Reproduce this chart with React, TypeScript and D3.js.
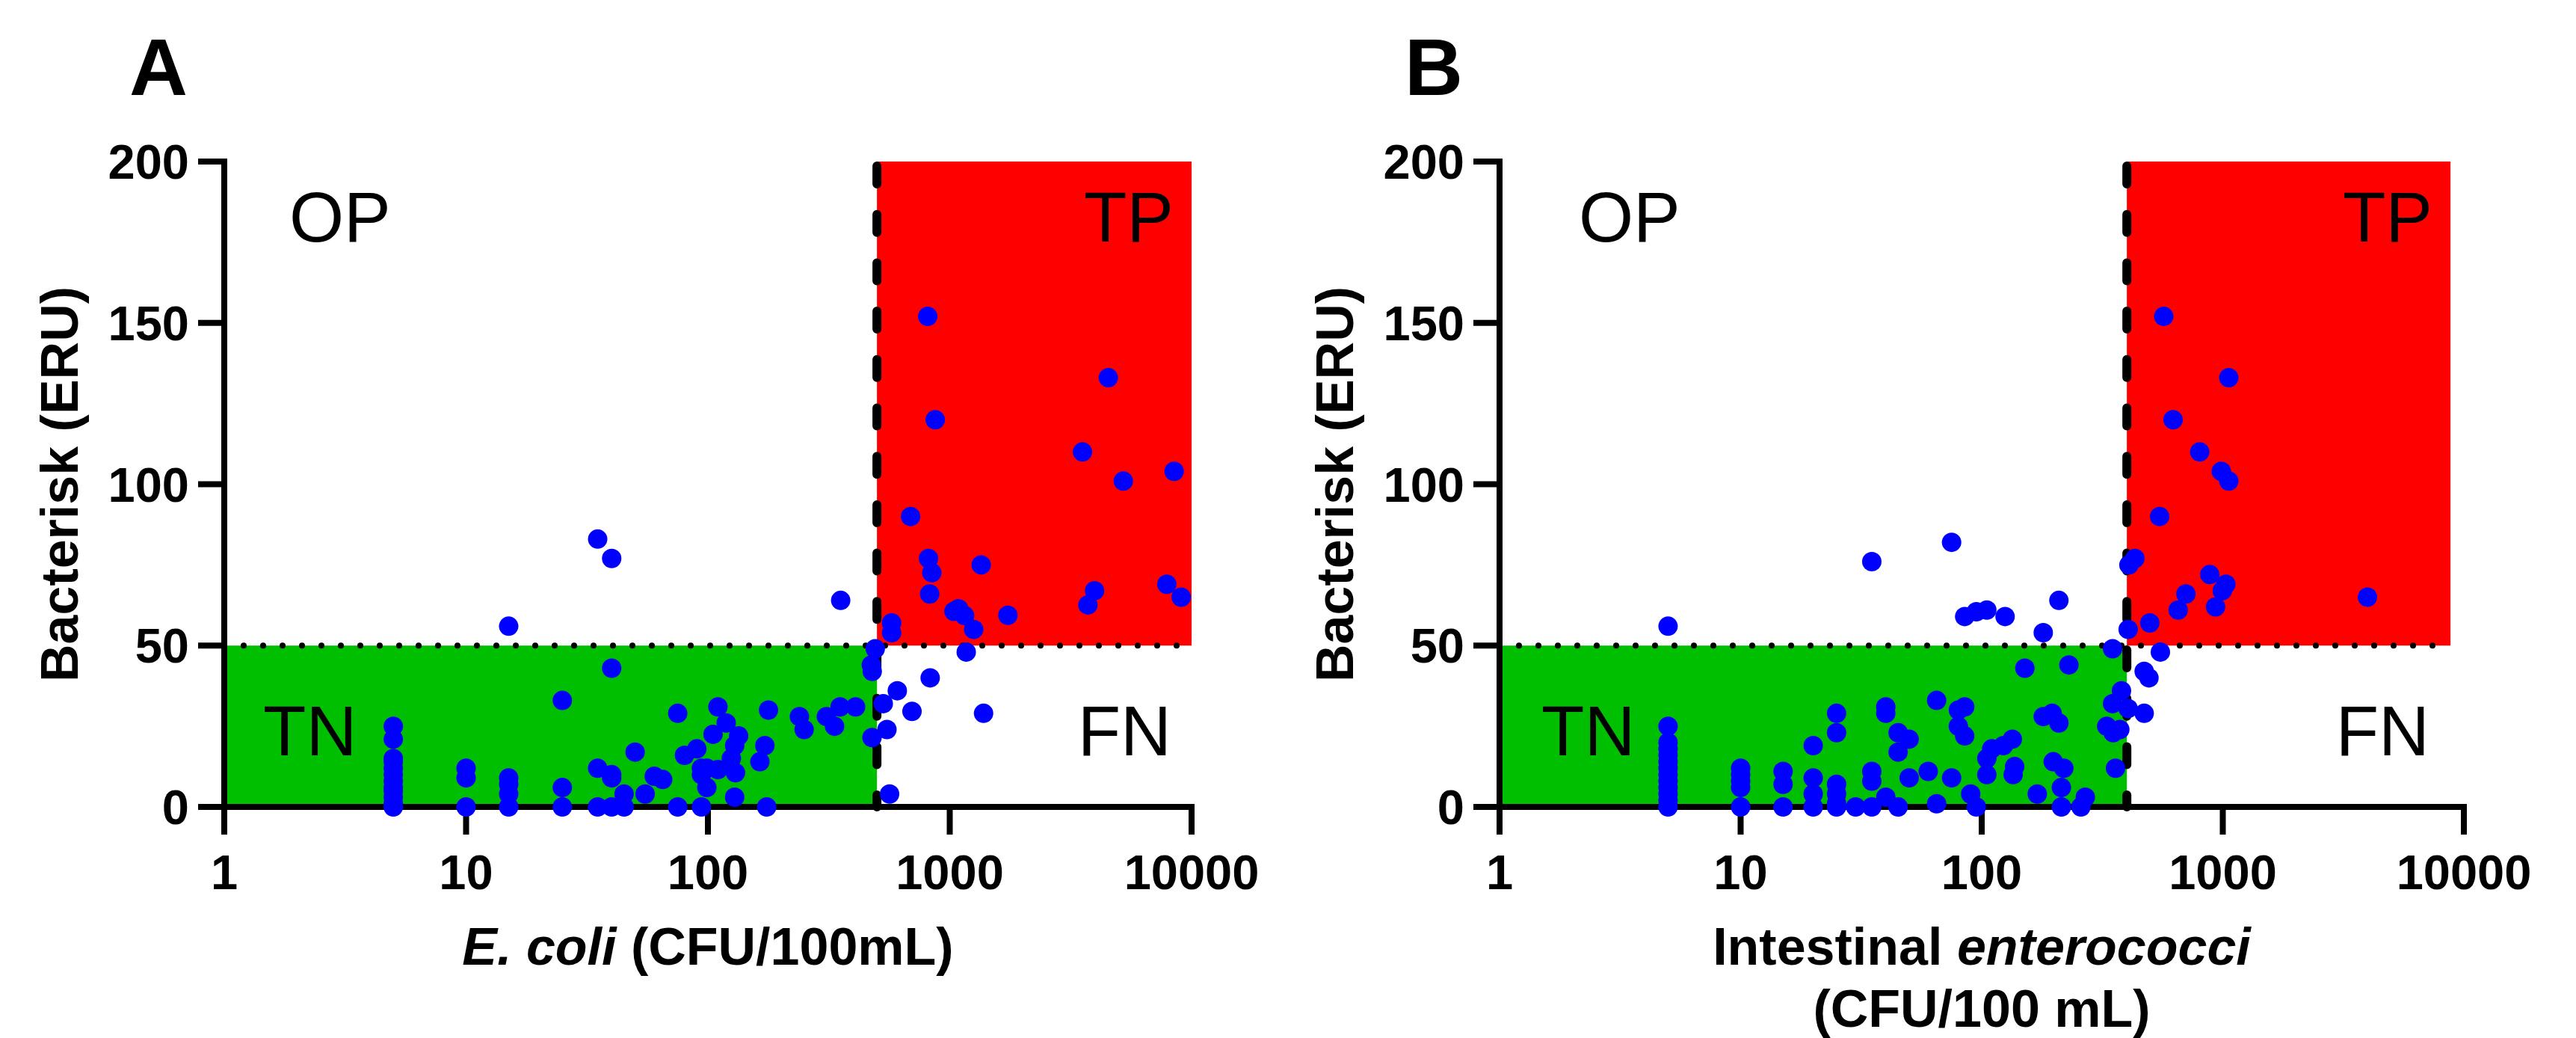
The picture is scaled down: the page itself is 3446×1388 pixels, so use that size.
import React from 'react';
import * as d3 from 'd3';

// E. coli (CFU/100mL) vs Bacterisk (ERU)
const ecoliPoints: [number, number][] = [
  [5, 0], [5, 1], [5, 3], [5, 5], [5, 6], [5, 8], [5, 10], [5, 12], [5, 14], [5, 15], [5, 21], [5, 25],
  [10, 0], [10, 9], [10, 12],
  [15, 0], [15, 4], [15, 7], [15, 9], [15, 56],
  [25, 0], [25, 6], [25, 33],
  [35, 0], [35, 12], [35, 83],
  [40, 0], [40, 9], [40, 10], [40, 43], [40, 77],
  [45, 0], [45, 4], [50, 17], [55, 4], [60, 9.5], [65, 8.5],
  [75, 0], [75, 29], [80, 16], [90, 18],
  [94, 0], [94, 10], [94, 12], [99, 6], [99, 12],
  [105, 22.5], [110, 11.6], [110, 31], [119, 26], [125, 15],
  [129, 3], [129, 19], [130, 10.6], [134, 22],
  [164, 14], [172, 19], [175, 0], [178, 30],
  [239, 28], [250, 24], [309, 28], [334, 25], [352, 31], [354, 64], [408, 31],
  [474, 44], [477, 21.5], [478, 42], [492, 49],
  [531, 32], [550, 24], [564, 4], [575, 54], [575, 57], [607, 36],
  [689, 90], [698, 29.6], [811, 152], [817, 77], [826, 66], [830, 40], [843, 72.6], [871, 120],
  [1041, 60.6], [1087, 61.4], [1152, 59.3], [1170, 48], [1256, 55], [1349, 75], [1380, 29], [1740, 59.4],
  [3540, 110], [3726, 62.6], [3970, 67], [4527, 133], [5220, 101], [7900, 69], [8470, 104], [9060, 65],
];

// Intestinal enterococci (CFU/100 mL) vs Bacterisk (ERU)
const enteroPoints: [number, number][] = [
  [5, 0], [5, 2], [5, 4], [5, 6], [5, 8], [5, 10], [5, 12], [5, 14], [5, 16], [5, 18], [5, 20], [5, 25], [5, 56],
  [10, 0], [10, 6], [10, 8], [10, 10], [10, 12],
  [15, 0], [15, 7], [15, 11],
  [20, 0], [20, 4], [20, 9], [20, 19],
  [25, 0], [25, 1], [25, 4], [25, 7], [25, 23], [25, 29],
  [30, 0], [35, 0], [35, 8], [35, 11], [35, 76],
  [40, 3], [40, 29], [40, 31],
  [45, 0], [45, 17], [45, 23], [50, 9], [50, 21], [60, 11], [65, 1], [65, 33],
  [75, 9], [75, 82], [80, 25], [80, 30], [85, 22], [85, 31], [85, 59],
  [90, 4], [95, 0], [95, 60.5], [105, 10], [105, 15], [105, 61], [110, 18],
  [123, 19], [125, 59], [134, 21], [135, 10], [137, 12.5], [151, 43],
  [170, 4], [180, 28], [180, 54], [196, 29], [198, 14], [209, 26], [209, 64],
  [214, 0], [214, 6], [219, 12], [230, 44], [258, 0], [269, 3],
  [330, 25], [349, 32], [349, 49], [351, 23], [359, 12], [374, 24], [380, 36],
  [405, 30.5], [405, 55], [408, 75], [432, 77], [472, 29], [472, 42], [494, 40], [498, 57],
  [547, 90], [551, 48], [569, 152], [622, 120], [653, 61], [703, 66],
  [802, 110], [883, 72], [933, 62], [986, 104], [995, 67], [1030, 69], [1059, 133], [1059, 101],
  [3981, 65],
];

const xTicks = [1, 10, 100, 1000, 10000];
const yTicks = [0, 50, 100, 150, 200];
const eruCutoff = 50;
const ecoliCutoff = 500;
const enteroCutoff = 400;

const FONT = '"Liberation Sans", Arial, Helvetica, sans-serif';
const TOP = 216;
const BOTTOM = 1079;

type PanelProps = {
  letter: string;
  left: number;
  width: number;
  points: [number, number][];
  cutoff: number;
  redMax: number;
  title: React.ReactNode;
  opX: number;
  tnX: number;
  tpX: number;
  fnX: number;
};

function Panel(p: PanelProps) {
  const x = d3.scaleLog().domain([1, 10000]).range([p.left, p.left + p.width]);
  const y = d3.scaleLinear().domain([0, 200]).range([BOTTOM, TOP]);

  return (
    <g fontFamily={FONT}>
      {/* panel letter */}
      <text x={p.left - 127} y={127} fontSize={108} fontWeight="bold">{p.letter}</text>

      {/* quadrant fills */}
      <rect x={x(1)} y={y(eruCutoff)} width={x(p.cutoff) - x(1)} height={y(0) - y(eruCutoff)} fill="#00BF00" />
      <rect x={x(p.cutoff)} y={y(200)} width={x(p.redMax) - x(p.cutoff)} height={y(eruCutoff) - y(200)} fill="#FF0000" />

      {/* cut-off lines */}
      <line x1={x(1)} x2={x(p.redMax)} y1={y(eruCutoff)} y2={y(eruCutoff)}
        stroke="#000" strokeWidth={8} strokeLinecap="round" strokeDasharray="0 26" />
      <line x1={x(p.cutoff)} x2={x(p.cutoff)} y1={y(200) + 6} y2={y(0)}
        stroke="#000" strokeWidth={12} strokeLinecap="round" strokeDasharray="24 40.7" />

      {/* quadrant labels */}
      <g fontSize={94}>
        <text x={p.opX} y={323}>OP</text>
        <text x={p.tpX} y={323} textAnchor="end">TP</text>
        <text x={p.tnX} y={1010}>TN</text>
        <text x={p.fnX} y={1010} textAnchor="end">FN</text>
      </g>

      {/* axes */}
      <g stroke="#000" strokeWidth={8}>
        <line x1={x(1)} x2={x(1)} y1={y(200) - 4} y2={y(0)} />
        <line x1={x(1)} x2={x(10000) + 4} y1={y(0)} y2={y(0)} />
        {xTicks.map(t => (
          <line key={'xt' + t} x1={x(t)} x2={x(t)} y1={y(0)} y2={y(0) + 37} />
        ))}
        {yTicks.map(t => (
          <line key={'yt' + t} x1={x(1) - 35} x2={x(1)} y1={y(t)} y2={y(t)} />
        ))}
      </g>
      <g fontSize={65} fontWeight="bold">
        {xTicks.map(t => (
          <text key={'xl' + t} x={x(t)} y={1189} textAnchor="middle">{t}</text>
        ))}
        {yTicks.map(t => (
          <text key={'yl' + t} x={x(1) - 47} y={y(t) + 23} textAnchor="end">{t}</text>
        ))}
      </g>

      {/* axis titles */}
      <text transform={`translate(${p.left - 196},${(TOP + BOTTOM) / 2}) rotate(-90)`}
        textAnchor="middle" fontSize={70} fontWeight="bold">Bacterisk (ERU)</text>
      <g fontSize={70} fontWeight="bold" textAnchor="middle">
        {React.Children.map(p.title, (line, i) => (
          <text x={x(100)} y={1290 + i * 83}>{line}</text>
        ))}
      </g>

      {/* samples */}
      <g fill="#0000FF">
        {p.points.map(([cfu, eru], i) => (
          <circle key={i} cx={x(cfu)} cy={y(eru)} r={13} />
        ))}
      </g>
    </g>
  );
}

export default function App() {
  return (
    <svg width={3446} height={1388} viewBox="0 0 3446 1388"
      style={{ position: 'absolute', left: 0, top: 0, background: '#fff' }}>
      <rect width={3446} height={1388} fill="#fff" />
      <Panel
        letter="A"
        left={300}
        width={1294}
        points={ecoliPoints}
        cutoff={ecoliCutoff}
        redMax={10000}
        title={[<tspan key="a"><tspan fontStyle="italic">E. coli</tspan> (CFU/100mL)</tspan>]}
        opX={387}
        tnX={352}
        tpX={1570}
        fnX={1567}
      />
      <Panel
        letter="B"
        left={2006}
        width={1290}
        points={enteroPoints}
        cutoff={enteroCutoff}
        redMax={8800}
        title={[
          <tspan key="a">Intestinal <tspan fontStyle="italic">enterococci</tspan></tspan>,
          <tspan key="b">(CFU/100 mL)</tspan>,
        ]}
        opX={2112}
        tnX={2062}
        tpX={3254}
        fnX={3250}
      />
    </svg>
  );
}
